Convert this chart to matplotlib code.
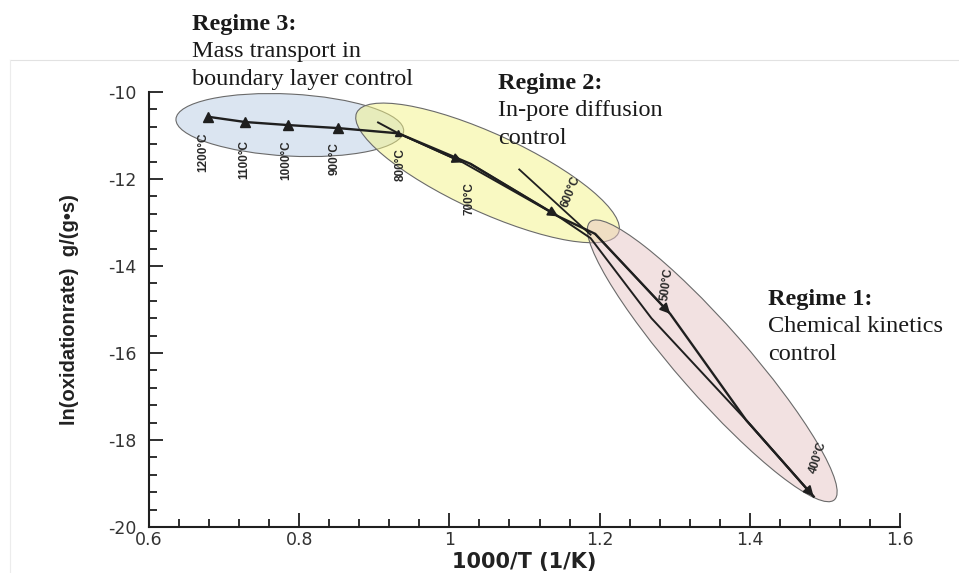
import matplotlib
matplotlib.use("Agg")
import matplotlib.pyplot as plt
from matplotlib.colors import to_rgba
from matplotlib.lines import Line2D
from matplotlib.patches import Ellipse
from matplotlib.ticker import FuncFormatter, MultipleLocator
from matplotlib.transforms import IdentityTransform

plt.rcParams.update({
    "font.family": "DejaVu Sans",
    "axes.unicode_minus": False,
})

# values
temps_c = [1200, 1100, 1000, 900, 800, 700, 600, 500, 400]
inv_t = [0.679, 0.728, 0.785, 0.852, 0.932, 1.028, 1.145, 1.294, 1.485]
ln_rate = [-10.57, -10.69, -10.76, -10.83, -10.95, -11.65, -12.86, -15.10, -19.30]

# first trace, with the kink between 600 and 500 C
main_x = [0.679, 0.728, 0.785, 0.852, 0.932, 1.028, 1.145, 1.194, 1.294, 1.395, 1.485]
main_y = [-10.57, -10.69, -10.76, -10.83, -10.95, -11.65, -12.86, -13.26, -15.10, -17.54, -19.30]
# second trace, slightly off the first one
second_x = [0.905, 0.932, 1.018, 1.145, 1.188, 1.269, 1.395, 1.485]
second_y = [-10.70, -10.95, -11.62, -12.86, -13.36, -15.20, -17.54, -19.30]
# short branch inside regime 2
branch_x = [1.093, 1.188]
branch_y = [-11.78, -13.28]

INK = "#1f1f1f"
W, H = 959, 573

fig = plt.figure(figsize=(W / 100, H / 100), dpi=100)
fig.patch.set_facecolor("white")
ax = fig.add_axes([149 / W, 46 / H, 751 / W, 435 / H])
ax.set_xlim(0.6, 1.6)
ax.set_ylim(-20, -10)

# regime ellipses: centre in data units, size in pixels
regions = [
    ((0.7875, -10.76), 228, 62, -3, "#b8cce4"),
    ((1.0508, -11.86), 288, 78, -24.7, "#f4f486"),
    ((1.350, -16.18), 370, 70, -48.7, "#e6c4c4"),
]
for (cx, cy), w, h, ang, col in regions:
    px, py = ax.transData.transform((cx, cy))
    ax.add_patch(Ellipse((px, py), w, h, angle=ang, transform=IdentityTransform(),
                         facecolor=to_rgba(col, 0.5), edgecolor="#6a6a6a", lw=0.8,
                         zorder=1, clip_on=False))

ax.plot(main_x, main_y, color=INK, lw=1.7, zorder=3)
ax.plot(second_x, second_y, color=INK, lw=1.4, zorder=3)
ax.plot(branch_x, branch_y, color=INK, lw=1.3, zorder=3)

ax.plot(inv_t[:4], ln_rate[:4], "^", color=INK, ms=7.5, zorder=4)
ax.plot(inv_t[4], ln_rate[4], "^", color=INK, ms=5, zorder=4)

# arrow heads along the traces
for xs, ys, i in [(main_x, main_y, 6), (main_x, main_y, 8), (main_x, main_y, 10),
                  (second_x, second_y, 2)]:
    ax.annotate("", xy=(xs[i], ys[i]), xytext=(xs[i - 1], ys[i - 1]),
                arrowprops=dict(arrowstyle="-|>", color=INK, lw=1.3,
                                mutation_scale=15, shrinkA=0, shrinkB=0),
                zorder=4)

# temperature labels
offsets = [(-5, 35), (-1, 37), (-2, 35), (-4, 30), (2, 31), (-1, 35), (13, -25), (-3, -30), (4, -39)]
rots = [90, 90, 90, 90, 90, 90, 68, 82, 72]
for t, x, y, (dx, dy), r in zip(temps_c, inv_t, ln_rate, offsets, rots):
    ax.annotate(f"{t}°C", xy=(x, y), xytext=(dx * 0.72, -dy * 0.72), textcoords="offset points",
                rotation=r, ha="center", va="center", fontsize=8.5, weight="bold",
                family="Liberation Sans", color="#2a2a2a", zorder=5)

for side in ["top", "right"]:
    ax.spines[side].set_visible(False)
for side in ["left", "bottom"]:
    ax.spines[side].set_linewidth(1.5)
    ax.spines[side].set_color(INK)

ax.xaxis.set_major_locator(MultipleLocator(0.2))
ax.xaxis.set_minor_locator(MultipleLocator(0.04))
ax.yaxis.set_major_locator(MultipleLocator(2))
ax.yaxis.set_minor_locator(MultipleLocator(0.4))
fmt = FuncFormatter(lambda v, p: f"{v:g}")
ax.xaxis.set_major_formatter(fmt)
ax.yaxis.set_major_formatter(fmt)
ax.tick_params(which="both", direction="in", color=INK, width=1.3)
ax.tick_params(which="major", length=10, labelsize=12.5, labelcolor="#333333")
ax.tick_params(which="minor", length=6)
ax.tick_params(axis="x", pad=3)
ax.tick_params(axis="y", pad=9)

ax.set_xlabel("1000/T (1/K)", fontsize=15, weight="bold", color="#222222", labelpad=2)
ax.set_ylabel("ln(oxidationrate)  g/(g•s)", fontsize=14.5, weight="bold",
              family="Liberation Sans", color="#222222", labelpad=21)

# faint edge of the pasted chart
fig.add_artist(Line2D([10 / W, 1], [1 - 60 / H] * 2, transform=fig.transFigure, color="#e2e2e2", lw=0.8))
fig.add_artist(Line2D([10 / W] * 2, [0, 1 - 60 / H], transform=fig.transFigure, color="#ececec", lw=0.8))

# regime captions
captions = [
    (192, [30, 57.5, 85], ["Regime 3:", "Mass transport in", "boundary layer control"]),
    (498, [89, 116.5, 144], ["Regime 2:", "In-pore diffusion", "control"]),
    (768, [305, 332.5, 360], ["Regime 1:", "Chemical kinetics", "control"]),
]
for x, ys, lines in captions:
    for k, (y, s) in enumerate(zip(ys, lines)):
        fig.text(x / W, 1 - y / H, s, fontsize=17.5, family="Liberation Serif",
                 weight="bold" if k == 0 else "normal", color="#1a1a1a", va="baseline")

fig.savefig("out.png", dpi=100, facecolor="white")
